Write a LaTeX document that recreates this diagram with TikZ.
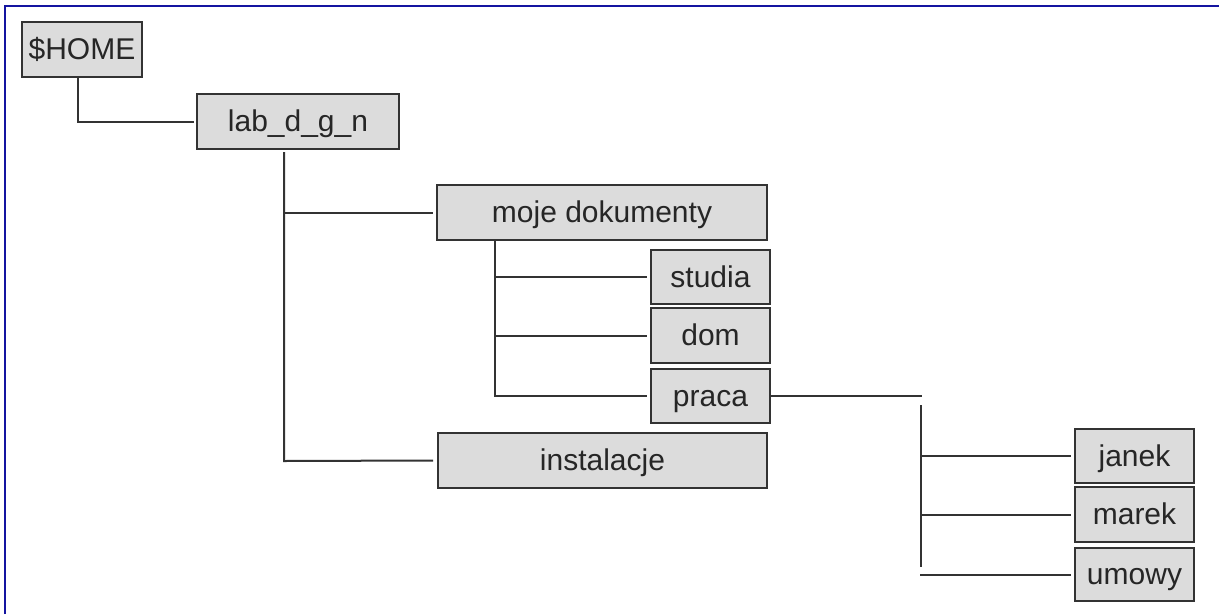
\documentclass[tikz,border=0pt]{standalone}
\usepackage{fontspec}
\setmainfont{Liberation Sans}
\definecolor{boxfill}{HTML}{DCDCDC}
\definecolor{boxline}{HTML}{333333}
\definecolor{frameblue}{HTML}{1414A0}
\begin{document}
\begin{tikzpicture}[x=1pt,y=-1pt,
  box/.style={draw=boxline,fill=boxfill,line width=2pt,inner sep=0pt,
    text height=20pt,text depth=0pt,
    font=\fontsize{30}{34}\selectfont,text=black!85},
  conn/.style={draw=boxline,line width=2pt}]
\useasboundingbox (0,0) rectangle (1219,614);
\draw[frameblue,line width=2.5pt] (5,614) -- (5,6) -- (1219,6);

\node[box,minimum width=120pt,minimum height=55pt] (home) at (82,49.5) {\$HOME};
\node[box,minimum width=202pt,minimum height=55pt] (lab) at (298,121.5) {lab\_d\_g\_n};
\node[box,minimum width=330pt,minimum height=55pt] (moje) at (602,212.5) {moje dokumenty};
\node[box,minimum width=119pt,minimum height=54pt] (studia) at (710.5,277) {studia};
\node[box,minimum width=119pt,minimum height=55pt] (dom) at (710.5,335.5) {dom};
\node[box,minimum width=119pt,minimum height=54pt] (praca) at (710.5,396) {praca};
\node[box,minimum width=329pt,minimum height=55pt] (inst) at (602.5,460.5) {instalacje};
\node[box,minimum width=119pt,minimum height=54pt] (janek) at (1134.5,456) {janek};
\node[box,minimum width=119pt,minimum height=55pt] (marek) at (1134.5,514.5) {marek};
\node[box,minimum width=119pt,minimum height=53pt] (umowy) at (1134.5,574.5) {umowy};

% $HOME -> lab
\coordinate (h0) at (78,77);
\draw[conn] (h0) |- ([xshift=-2pt]lab.west);

% lab trunk
\coordinate (l0) at (284,152);
\coordinate (l1) at (284,461);
\draw[conn] (l0) -- (l1) -- ([xshift=-4pt]inst.west);
\draw[conn] (l0 |- moje.west) -- ([xshift=-3pt]moje.west);

% moje trunk
\coordinate (m0) at (495,240);
\coordinate (m1) at (495,396);
\draw[conn] (m0) -- (m1) -- ([xshift=-3pt]praca.west);
\draw[conn] (m0 |- studia.west) -- ([xshift=-3pt]studia.west);
\draw[conn] (m0 |- dom.west) -- ([xshift=-3pt]dom.west);

% praca trunk
\coordinate (p0) at (922,396);
\draw[conn] (praca.east) -- (p0);
\coordinate (a1) at (921,405);
\coordinate (a2) at (921,567);
\draw[conn] (a1) -- (a2);
\draw[conn] (a1 |- janek.west) -- ([xshift=-3pt]janek.west);
\draw[conn] (a1 |- marek.west) -- ([xshift=-3pt]marek.west);
\coordinate (a3) at (920,574.5);
\draw[conn] (a3) -- ([xshift=-3pt]umowy.west);
\end{tikzpicture}
\end{document}
